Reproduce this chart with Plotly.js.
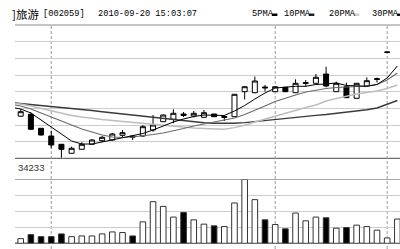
<!DOCTYPE html>
<html><head><meta charset="utf-8">
<script src="https://cdn.plot.ly/plotly-3.0.1.min.js"></script>
<style>html,body{margin:0;padding:0;background:#fff;overflow:hidden}#chart{width:400px;height:249px}</style>
</head><body><div id="chart"></div>
<script>
// ---- text ----
const stockNameCJK = ']旅游';
const stockCode = '[002059]';
const timestamp = '2010-09-20 15:03:07';
const maLabels = ['5PMA', '10PMA', '20PMA', '30PMA'];
const volumeMaxLabel = '34233';

// ---- trading days (index) ----
const days = [0,1,2,3,4,5,6,7,8,9,10,11,12,13,14,15,16,17,18,19,20,21,22,23,24,25,26,27,28,29,30,31,32,33,34,35,36,37];
const maDays = [-1,0,1,2,3,4,5,6,7,8,9,10,11,12,13,14,15,16,17,18,19,20,21,22,23,24,25,26,27,28,29,30,31,32,33,34,35,36,37];

// ---- OHLC ----
const open  = [14.18,14.37,12.97,12.20,11.37,10.47,10.87,11.37,11.73,11.80,12.27,12.20,12.20,12.80,13.63,13.87,14.40,14.20,14.07,14.40,14.05,14.13,16.63,16.53,17.10,16.63,17.07,16.53,17.45,17.47,18.40,16.63,17.13,15.97,17.20,17.85,20.55,null];
const close = [14.63,12.87,12.30,11.30,10.87,10.97,11.37,11.80,12.07,12.40,12.53,12.10,13.13,13.30,14.30,14.47,14.25,14.47,14.53,14.13,14.15,16.37,17.13,17.70,17.02,17.13,16.63,17.47,17.53,18.07,17.20,17.47,16.03,17.47,17.73,17.92,20.60,null];
const high  = [14.87,14.57,13.00,12.73,11.40,11.13,11.57,11.90,12.20,12.50,12.80,12.22,13.30,14.30,14.35,14.87,14.60,14.70,14.80,14.40,14.30,16.40,17.15,18.15,17.30,17.15,17.07,17.87,17.80,18.40,19.13,17.63,17.53,17.50,18.07,18.05,20.60,null];
const low   = [14.15,12.80,12.25,10.97,10.03,10.45,10.85,11.35,11.60,11.75,12.00,11.80,12.10,12.63,13.60,13.47,14.10,14.05,14.05,14.10,13.70,14.10,15.85,16.47,16.65,16.60,16.60,16.50,17.13,17.45,17.07,16.60,16.00,15.95,17.15,17.55,20.55,null];

// ---- moving averages ----
const ma5  = [15.08,14.90,14.50,13.80,13.10,12.35,11.70,11.40,11.40,11.60,11.80,12.05,12.20,12.45,12.80,13.20,13.60,13.90,14.15,14.30,14.30,14.25,14.70,15.25,15.90,16.50,17.00,17.10,17.17,17.17,17.35,17.40,17.50,17.25,17.20,17.17,17.35,18.00,19.20];
const ma10 = [15.38,15.20,14.90,14.50,14.10,13.70,13.30,12.90,12.60,12.30,12.10,12.05,12.10,12.20,12.35,12.50,12.70,12.95,13.20,13.40,13.60,13.75,14.00,14.35,14.75,15.20,15.65,16.00,16.30,16.60,16.80,16.95,17.05,17.10,17.15,17.20,17.35,17.80,18.50];
const ma20 = [15.49,15.40,15.20,14.95,14.70,14.45,14.25,14.10,13.95,13.85,13.75,13.65,13.55,13.45,13.35,13.25,13.15,13.05,13.00,12.95,12.90,12.87,13.04,13.28,13.60,13.90,14.20,14.50,14.80,15.05,15.30,15.70,15.95,16.20,16.40,16.55,16.70,16.95,17.30];
const ma30 = [15.54,15.45,15.35,15.25,15.15,15.05,14.95,14.85,14.75,14.63,14.52,14.40,14.30,14.18,14.06,13.94,13.82,13.70,13.60,13.52,13.47,13.45,13.47,13.54,13.65,13.77,13.88,13.98,14.08,14.17,14.26,14.35,14.45,14.55,14.67,14.82,15.00,15.35,15.75];

// ---- volume ----
const volume = [2500,4650,3570,3570,5030,3570,3950,3950,5030,6100,5770,3950,11520,22340,19800,14070,16550,12600,10280,9360,8980,21640,34233,23420,12600,10060,7740,16230,12060,14070,13690,8110,8440,9740,8980,7030,2870,12990];

// separator days (dashed verticals)
const separatorDays = [3, 25, 36];

// ---- geometry (pixels of the 400x249 picture) ----
const W = 400, H = 249;
const plotLeft = 15;
const mainTop = 25, mainBottom = 158.33;
const volTop = 179.5, volBottom = 243.3;
const priceMin = 9.9667, priceMax = 23.3;
const volMax = 34233;
const py = y => 1 - y / H;
const px = x => x / W;

const volColors = volume.map((v, i) => (open[i] !== null && close[i] < open[i]) ? '#000' : '#fff');

const traces = [
  {type:'scatter', mode:'lines', x:maDays, y:ma30, xaxis:'x', yaxis:'y', line:{color:'#3a3a3a', width:1.4}, hoverinfo:'skip'},
  {type:'scatter', mode:'lines', x:maDays, y:ma20, xaxis:'x', yaxis:'y', line:{color:'#bdbdbd', width:1.4}, hoverinfo:'skip'},
  {type:'scatter', mode:'lines', x:maDays, y:ma10, xaxis:'x', yaxis:'y', line:{color:'#6a6a6a', width:1.1}, hoverinfo:'skip'},
  {type:'scatter', mode:'lines', x:maDays, y:ma5, xaxis:'x', yaxis:'y', line:{color:'#000', width:1}, hoverinfo:'skip'},
  {type:'candlestick', x:days, open:open, high:high, low:low, close:close, xaxis:'x', yaxis:'y',
   increasing:{line:{color:'#000', width:1}, fillcolor:'#fff'},
   decreasing:{line:{color:'#000', width:1}, fillcolor:'#000'},
   whiskerwidth:0, hoverinfo:'skip'},
  {type:'bar', x:days, y:volume, xaxis:'x', yaxis:'y2', width:0.55,
   marker:{color:volColors, line:{color:'#333', width:1}}, hoverinfo:'skip'}
];

const shapes = [];
// border lines
[[mainTop,'#8a8a8a',1.2],[mainBottom,'#6e6e6e',1.4],[volTop,'#a8a8a8',1.2],[volBottom,'#6e6e6e',1.4]].forEach(([y,c,w]) => {
  shapes.push({type:'line', xref:'paper', yref:'paper', x0:px(plotLeft), x1:1, y0:py(y), y1:py(y), line:{color:c, width:w}, layer:'below'});
});
// separators
separatorDays.forEach(d => {
  shapes.push({type:'line', xref:'x', yref:'paper', x0:d, x1:d, y0:0, y1:py(mainTop+1), line:{color:'#9a9a9a', width:1, dash:'3px,2px'}, layer:'below'});
});
// legend swatches
const legendX = [250, 281.7, 326.7, 370];
const legendColors = ['#000', '#222', '#cfcfcf', '#111'];
const charW = 0.6 * 8.7;
maLabels.forEach((t, k) => {
  const x0 = legendX[k] + t.length * charW + 1;
  shapes.push({type:'rect', xref:'paper', yref:'paper', x0:px(x0), x1:px(Math.min(x0 + 5.5, 400)), y0:py(16), y1:py(13.5), fillcolor:legendColors[k], line:{width:0}});
});

const mono = {family:'Liberation Mono, DejaVu Sans Mono, monospace', size:8.7, color:'#000'};
const textY = py(14.3);
const annotations = [
  {text:stockNameCJK, xref:'paper', yref:'paper', x:px(40.5), y:textY, xanchor:'right', yanchor:'middle', showarrow:false, font:{family:'Noto Sans CJK SC', size:11.5, color:'#000'}},
  {text:stockCode, xref:'paper', yref:'paper', x:px(40.5), y:textY, xanchor:'left', yanchor:'middle', showarrow:false, font:mono},
  {text:timestamp, xref:'paper', yref:'paper', x:px(96), y:textY, xanchor:'left', yanchor:'middle', showarrow:false, font:mono},
  {text:volumeMaxLabel, xref:'paper', yref:'paper', x:px(16), y:py(167.3), xanchor:'left', yanchor:'middle', showarrow:false, font:{family:'Liberation Sans, Arial', size:9.5, color:'#333'}}
];
maLabels.forEach((t, k) => {
  annotations.push({text:t, xref:'paper', yref:'paper', x:px(legendX[k]), y:textY, xanchor:'left', yanchor:'middle', showarrow:false, font:mono});
});

const hidden = {showticklabels:false, ticks:'', zeroline:false, showline:false, fixedrange:true};
const layout = {
  width:W, height:H,
  margin:{l:0, r:0, t:0, b:0, pad:0},
  paper_bgcolor:'#fff', plot_bgcolor:'#fff',
  showlegend:false, hovermode:false,
  bargap:0,
  xaxis:Object.assign({domain:[px(plotLeft), 1], range:[-0.56, 37.26], showgrid:false, anchor:'y2', rangeslider:{visible:false}}, hidden),
  yaxis:Object.assign({domain:[py(mainBottom), py(mainTop)], range:[priceMin, priceMax], tick0:priceMin, dtick:(priceMax - priceMin) / 8, showgrid:true, gridcolor:'#cdcdcd', gridwidth:1}, hidden),
  yaxis2:Object.assign({domain:[py(volBottom), py(volTop)], range:[0, volMax], tick0:0, dtick:volMax / 4, showgrid:true, gridcolor:'#cdcdcd', gridwidth:1}, hidden),
  shapes:shapes,
  annotations:annotations
};

Plotly.newPlot('chart', traces, layout, {staticPlot:true, displayModeBar:false});
</script>
</body></html>
